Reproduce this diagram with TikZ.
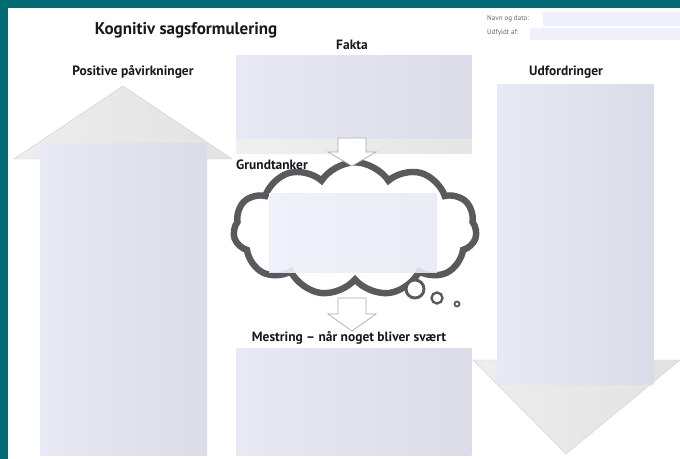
\documentclass[tikz,border=0pt]{standalone}
\usepackage{fontspec}
\setmainfont{PT Sans}
\usetikzlibrary{shapes.symbols}
\definecolor{petrol}{RGB}{0,105,114}
\definecolor{fieldblue}{RGB}{238,240,251}
\definecolor{boxleft}{RGB}{231,234,245}
\definecolor{boxright}{RGB}{218,221,232}
\definecolor{cloudgray}{RGB}{88,90,94}
\definecolor{headgray}{RGB}{226,226,226}

\begin{document}
\begin{tikzpicture}[x=0.03cm,y=-0.03cm,
  heading/.style={font=\bfseries\fontsize{11.5}{13}\selectfont,text=black!90},
  smalltext/.style={font=\fontsize{6}{7}\selectfont,text=black!60,anchor=west,inner sep=0},
  formbox/.style={left color=boxleft,right color=boxright,minimum width=#1,inner sep=0,anchor=north west},
  field/.style={fill=fieldblue,draw=none},
  arrowhead/.style={left color=headgray!60,right color=headgray,draw=gray!35},
  blockarrow/.style={draw=gray!65,fill=white,line width=0.6pt,line join=miter}]
\useasboundingbox (0,0) rectangle (680,459);

% Page
\fill[petrol] (0,0) rectangle (680,459);
\fill[white] (8,8) rectangle (680,459);

% Header
\node[font=\bfseries\fontsize{14.5}{16}\selectfont,text=black!90] (title) at (186,30) {Kognitiv sagsformulering};
\node[smalltext] (navn) at (487,19) {Navn og dato:};
\fill[field] (543,12) rectangle (680,26);
\node[smalltext] (udfyldt) at (487,33) {Udfyldt af:};
\fill[field] (530,28) rectangle (680,40);

% Positive influences (up arrow)
\node[heading] (poslabel) at (133,72) {Positive påvirkninger};
\shade[arrowhead] (14,159) -- (123,86) -- (232,159) -- cycle;
\node[formbox=5.01cm,minimum height=9.36cm] (positive) at (40,143) {};

% Challenges (down arrow)
\node[heading] (udlabel) at (566,72) {Udfordringer};
\shade[arrowhead] (473,360) -- (680,360) -- (566,454) -- cycle;
\node[formbox=4.68cm,minimum height=9cm] (udfordringer) at (497,84) {};

% Facts
\node[heading] (faktalabel) at (352,45) {Fakta};
\node[formbox=7.05cm,minimum height=2.94cm,left color=gray!12,right color=gray!20] (faktabase) at (236,55) {};
\node[formbox=7.05cm,minimum height=2.49cm] (fakta) at (236,55) {};

% Thoughts
\node[cloud,cloud puffs=11,cloud puff arc=115,aspect=1.75,draw=cloudgray,line width=5.5pt,fill=white,
  minimum width=7.3cm,minimum height=4cm] (cloud) at (355,229) {};
\node[formbox=5.04cm,minimum height=2.37cm,left color=fieldblue,right color=fieldblue!95!gray,opacity=0.9] (tanker) at (269,193) {};
\draw[cloudgray,line width=2.5pt,fill=white] (415,289) circle (9);
\draw[cloudgray,line width=2pt,fill=white] (437,298) circle (5.5);
\draw[cloudgray,line width=1.5pt,fill=white] (457,304) circle (2.5);
\node[heading] (grundlabel) at (272,165) {Grundtanker};

% Connectors
\draw[blockarrow] (338,138) -- (366,138) -- (366,152) -- (376,152) -- (352,166) -- (328,152) -- (338,152) -- cycle;
\draw[blockarrow] (338,298) -- (366,298) -- (366,314) -- (376,314) -- (352,331) -- (328,314) -- (338,314) -- cycle;

% Coping
\node[heading] (mestlabel) at (349,338) {Mestring -- når noget bliver svært};
\node[formbox=7.05cm,minimum height=3.21cm] (mestring) at (236,348) {};
\end{tikzpicture}
\end{document}
